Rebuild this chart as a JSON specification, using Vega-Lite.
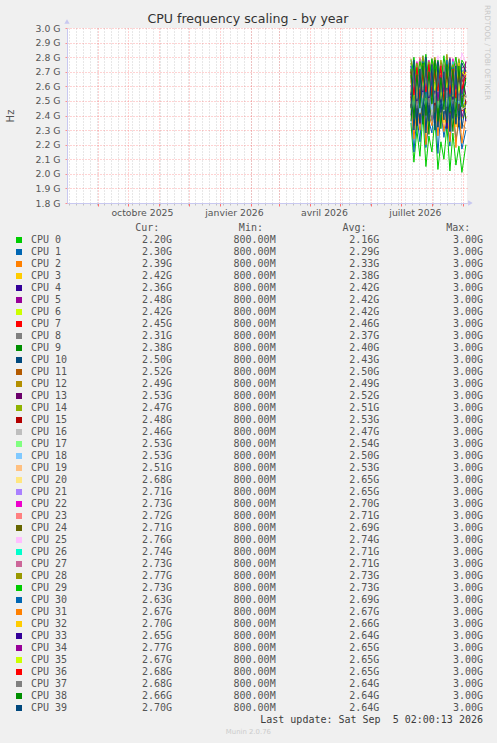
{
  "$schema": "https://vega.github.io/schema/vega-lite/v6.json",
  "width": 400,
  "height": 175,
  "autosize": {"type": "none"},
  "padding": {"left": 67, "top": 28, "right": 30, "bottom": 540},
  "background": "#f0f0f0",
  "title": {
    "text": "CPU frequency scaling - by year",
    "font": "DejaVu Sans",
    "fontSize": 12.6,
    "fontWeight": "normal",
    "color": "#333333",
    "anchor": "middle",
    "frame": "bounds",
    "offset": -21
  },
  "datasets": {
    "freq": [
      {"c":0,"t":"2026-07-11","v":2.35},{"c":0,"t":"2026-07-14","v":2.08},{"c":0,"t":"2026-07-17","v":2.30},{"c":0,"t":"2026-07-20","v":2.12},{"c":0,"t":"2026-07-23","v":2.41},{"c":0,"t":"2026-07-26","v":2.05},{"c":0,"t":"2026-07-29","v":2.26},{"c":0,"t":"2026-08-01","v":2.15},{"c":0,"t":"2026-08-04","v":2.38},{"c":0,"t":"2026-08-07","v":2.03},{"c":0,"t":"2026-08-10","v":2.22},{"c":0,"t":"2026-08-13","v":2.10},{"c":0,"t":"2026-08-16","v":2.33},{"c":0,"t":"2026-08-19","v":2.02},{"c":0,"t":"2026-08-22","v":2.28},{"c":0,"t":"2026-08-25","v":2.06},{"c":0,"t":"2026-08-28","v":2.19},{"c":0,"t":"2026-08-31","v":2.01},{"c":0,"t":"2026-09-04","v":2.20},
      {"c":1,"t":"2026-07-11","v":2.48},{"c":1,"t":"2026-07-14","v":2.15},{"c":1,"t":"2026-07-17","v":2.40},{"c":1,"t":"2026-07-20","v":2.22},{"c":1,"t":"2026-07-23","v":2.55},{"c":1,"t":"2026-07-26","v":2.18},{"c":1,"t":"2026-07-29","v":2.36},{"c":1,"t":"2026-08-01","v":2.28},{"c":1,"t":"2026-08-04","v":2.50},{"c":1,"t":"2026-08-07","v":2.14},{"c":1,"t":"2026-08-10","v":2.44},{"c":1,"t":"2026-08-13","v":2.25},{"c":1,"t":"2026-08-16","v":2.38},{"c":1,"t":"2026-08-19","v":2.19},{"c":1,"t":"2026-08-22","v":2.47},{"c":1,"t":"2026-08-25","v":2.23},{"c":1,"t":"2026-08-28","v":2.35},{"c":1,"t":"2026-08-31","v":2.17},{"c":1,"t":"2026-09-04","v":2.30},
      {"c":2,"t":"2026-07-11","v":2.52},{"c":2,"t":"2026-07-14","v":2.24},{"c":2,"t":"2026-07-17","v":2.45},{"c":2,"t":"2026-07-20","v":2.30},{"c":2,"t":"2026-07-23","v":2.60},{"c":2,"t":"2026-07-26","v":2.20},{"c":2,"t":"2026-07-29","v":2.41},{"c":2,"t":"2026-08-01","v":2.33},{"c":2,"t":"2026-08-04","v":2.55},{"c":2,"t":"2026-08-07","v":2.26},{"c":2,"t":"2026-08-10","v":2.48},{"c":2,"t":"2026-08-13","v":2.29},{"c":2,"t":"2026-08-16","v":2.43},{"c":2,"t":"2026-08-19","v":2.22},{"c":2,"t":"2026-08-22","v":2.51},{"c":2,"t":"2026-08-25","v":2.18},{"c":2,"t":"2026-08-28","v":2.44},{"c":2,"t":"2026-08-31","v":2.21},{"c":2,"t":"2026-09-04","v":2.39},
      {"c":3,"t":"2026-07-11","v":2.58},{"c":3,"t":"2026-07-14","v":2.31},{"c":3,"t":"2026-07-17","v":2.50},{"c":3,"t":"2026-07-20","v":2.36},{"c":3,"t":"2026-07-23","v":2.62},{"c":3,"t":"2026-07-26","v":2.28},{"c":3,"t":"2026-07-29","v":2.47},{"c":3,"t":"2026-08-01","v":2.40},{"c":3,"t":"2026-08-04","v":2.60},{"c":3,"t":"2026-08-07","v":2.33},{"c":3,"t":"2026-08-10","v":2.53},{"c":3,"t":"2026-08-13","v":2.35},{"c":3,"t":"2026-08-16","v":2.49},{"c":3,"t":"2026-08-19","v":2.30},{"c":3,"t":"2026-08-22","v":2.56},{"c":3,"t":"2026-08-25","v":2.32},{"c":3,"t":"2026-08-28","v":2.46},{"c":3,"t":"2026-08-31","v":2.38},{"c":3,"t":"2026-09-04","v":2.42},
      {"c":4,"t":"2026-07-11","v":2.40},{"c":4,"t":"2026-07-14","v":2.62},{"c":4,"t":"2026-07-17","v":2.33},{"c":4,"t":"2026-07-20","v":2.55},{"c":4,"t":"2026-07-23","v":2.38},{"c":4,"t":"2026-07-26","v":2.66},{"c":4,"t":"2026-07-29","v":2.42},{"c":4,"t":"2026-08-01","v":2.50},{"c":4,"t":"2026-08-04","v":2.35},{"c":4,"t":"2026-08-07","v":2.63},{"c":4,"t":"2026-08-10","v":2.44},{"c":4,"t":"2026-08-13","v":2.58},{"c":4,"t":"2026-08-16","v":2.31},{"c":4,"t":"2026-08-19","v":2.60},{"c":4,"t":"2026-08-22","v":2.46},{"c":4,"t":"2026-08-25","v":2.52},{"c":4,"t":"2026-08-28","v":2.37},{"c":4,"t":"2026-08-31","v":2.57},{"c":4,"t":"2026-09-04","v":2.36},
      {"c":5,"t":"2026-07-11","v":2.61},{"c":5,"t":"2026-07-14","v":2.39},{"c":5,"t":"2026-07-17","v":2.55},{"c":5,"t":"2026-07-20","v":2.34},{"c":5,"t":"2026-07-23","v":2.64},{"c":5,"t":"2026-07-26","v":2.42},{"c":5,"t":"2026-07-29","v":2.51},{"c":5,"t":"2026-08-01","v":2.37},{"c":5,"t":"2026-08-04","v":2.66},{"c":5,"t":"2026-08-07","v":2.40},{"c":5,"t":"2026-08-10","v":2.57},{"c":5,"t":"2026-08-13","v":2.44},{"c":5,"t":"2026-08-16","v":2.60},{"c":5,"t":"2026-08-19","v":2.36},{"c":5,"t":"2026-08-22","v":2.53},{"c":5,"t":"2026-08-25","v":2.41},{"c":5,"t":"2026-08-28","v":2.62},{"c":5,"t":"2026-08-31","v":2.39},{"c":5,"t":"2026-09-04","v":2.48},
      {"c":6,"t":"2026-07-11","v":2.44},{"c":6,"t":"2026-07-14","v":2.65},{"c":6,"t":"2026-07-17","v":2.38},{"c":6,"t":"2026-07-20","v":2.58},{"c":6,"t":"2026-07-23","v":2.41},{"c":6,"t":"2026-07-26","v":2.68},{"c":6,"t":"2026-07-29","v":2.45},{"c":6,"t":"2026-08-01","v":2.55},{"c":6,"t":"2026-08-04","v":2.36},{"c":6,"t":"2026-08-07","v":2.62},{"c":6,"t":"2026-08-10","v":2.48},{"c":6,"t":"2026-08-13","v":2.59},{"c":6,"t":"2026-08-16","v":2.40},{"c":6,"t":"2026-08-19","v":2.66},{"c":6,"t":"2026-08-22","v":2.43},{"c":6,"t":"2026-08-25","v":2.57},{"c":6,"t":"2026-08-28","v":2.39},{"c":6,"t":"2026-08-31","v":2.61},{"c":6,"t":"2026-09-04","v":2.42},
      {"c":7,"t":"2026-07-11","v":2.66},{"c":7,"t":"2026-07-14","v":2.42},{"c":7,"t":"2026-07-17","v":2.58},{"c":7,"t":"2026-07-20","v":2.45},{"c":7,"t":"2026-07-23","v":2.70},{"c":7,"t":"2026-07-26","v":2.40},{"c":7,"t":"2026-07-29","v":2.61},{"c":7,"t":"2026-08-01","v":2.48},{"c":7,"t":"2026-08-04","v":2.72},{"c":7,"t":"2026-08-07","v":2.44},{"c":7,"t":"2026-08-10","v":2.63},{"c":7,"t":"2026-08-13","v":2.46},{"c":7,"t":"2026-08-16","v":2.68},{"c":7,"t":"2026-08-19","v":2.41},{"c":7,"t":"2026-08-22","v":2.60},{"c":7,"t":"2026-08-25","v":2.49},{"c":7,"t":"2026-08-28","v":2.65},{"c":7,"t":"2026-08-31","v":2.43},{"c":7,"t":"2026-09-04","v":2.45},
      {"c":8,"t":"2026-07-11","v":2.55},{"c":8,"t":"2026-07-14","v":2.33},{"c":8,"t":"2026-07-17","v":2.47},{"c":8,"t":"2026-07-20","v":2.38},{"c":8,"t":"2026-07-23","v":2.59},{"c":8,"t":"2026-07-26","v":2.30},{"c":8,"t":"2026-07-29","v":2.50},{"c":8,"t":"2026-08-01","v":2.36},{"c":8,"t":"2026-08-04","v":2.57},{"c":8,"t":"2026-08-07","v":2.32},{"c":8,"t":"2026-08-10","v":2.49},{"c":8,"t":"2026-08-13","v":2.41},{"c":8,"t":"2026-08-16","v":2.54},{"c":8,"t":"2026-08-19","v":2.29},{"c":8,"t":"2026-08-22","v":2.52},{"c":8,"t":"2026-08-25","v":2.35},{"c":8,"t":"2026-08-28","v":2.48},{"c":8,"t":"2026-08-31","v":2.34},{"c":8,"t":"2026-09-04","v":2.31},
      {"c":9,"t":"2026-07-11","v":2.36},{"c":9,"t":"2026-07-14","v":2.60},{"c":9,"t":"2026-07-17","v":2.30},{"c":9,"t":"2026-07-20","v":2.66},{"c":9,"t":"2026-07-23","v":2.34},{"c":9,"t":"2026-07-26","v":2.58},{"c":9,"t":"2026-07-29","v":2.27},{"c":9,"t":"2026-08-01","v":2.63},{"c":9,"t":"2026-08-04","v":2.38},{"c":9,"t":"2026-08-07","v":2.55},{"c":9,"t":"2026-08-10","v":2.31},{"c":9,"t":"2026-08-13","v":2.64},{"c":9,"t":"2026-08-16","v":2.35},{"c":9,"t":"2026-08-19","v":2.57},{"c":9,"t":"2026-08-22","v":2.29},{"c":9,"t":"2026-08-25","v":2.61},{"c":9,"t":"2026-08-28","v":2.40},{"c":9,"t":"2026-08-31","v":2.52},{"c":9,"t":"2026-09-04","v":2.38},
      {"c":10,"t":"2026-07-11","v":2.70},{"c":10,"t":"2026-07-14","v":2.30},{"c":10,"t":"2026-07-17","v":2.62},{"c":10,"t":"2026-07-20","v":2.35},{"c":10,"t":"2026-07-23","v":2.74},{"c":10,"t":"2026-07-26","v":2.28},{"c":10,"t":"2026-07-29","v":2.66},{"c":10,"t":"2026-08-01","v":2.40},{"c":10,"t":"2026-08-04","v":2.72},{"c":10,"t":"2026-08-07","v":2.32},{"c":10,"t":"2026-08-10","v":2.60},{"c":10,"t":"2026-08-13","v":2.37},{"c":10,"t":"2026-08-16","v":2.76},{"c":10,"t":"2026-08-19","v":2.29},{"c":10,"t":"2026-08-22","v":2.64},{"c":10,"t":"2026-08-25","v":2.34},{"c":10,"t":"2026-08-28","v":2.71},{"c":10,"t":"2026-08-31","v":2.31},{"c":10,"t":"2026-09-04","v":2.50},
      {"c":11,"t":"2026-07-11","v":2.46},{"c":11,"t":"2026-07-14","v":2.68},{"c":11,"t":"2026-07-17","v":2.40},{"c":11,"t":"2026-07-20","v":2.63},{"c":11,"t":"2026-07-23","v":2.49},{"c":11,"t":"2026-07-26","v":2.71},{"c":11,"t":"2026-07-29","v":2.44},{"c":11,"t":"2026-08-01","v":2.60},{"c":11,"t":"2026-08-04","v":2.42},{"c":11,"t":"2026-08-07","v":2.67},{"c":11,"t":"2026-08-10","v":2.51},{"c":11,"t":"2026-08-13","v":2.64},{"c":11,"t":"2026-08-16","v":2.45},{"c":11,"t":"2026-08-19","v":2.70},{"c":11,"t":"2026-08-22","v":2.48},{"c":11,"t":"2026-08-25","v":2.62},{"c":11,"t":"2026-08-28","v":2.43},{"c":11,"t":"2026-08-31","v":2.66},{"c":11,"t":"2026-09-04","v":2.52},
      {"c":12,"t":"2026-07-11","v":2.64},{"c":12,"t":"2026-07-14","v":2.45},{"c":12,"t":"2026-07-17","v":2.70},{"c":12,"t":"2026-07-20","v":2.41},{"c":12,"t":"2026-07-23","v":2.62},{"c":12,"t":"2026-07-26","v":2.48},{"c":12,"t":"2026-07-29","v":2.68},{"c":12,"t":"2026-08-01","v":2.43},{"c":12,"t":"2026-08-04","v":2.65},{"c":12,"t":"2026-08-07","v":2.40},{"c":12,"t":"2026-08-10","v":2.69},{"c":12,"t":"2026-08-13","v":2.47},{"c":12,"t":"2026-08-16","v":2.61},{"c":12,"t":"2026-08-19","v":2.44},{"c":12,"t":"2026-08-22","v":2.66},{"c":12,"t":"2026-08-25","v":2.42},{"c":12,"t":"2026-08-28","v":2.63},{"c":12,"t":"2026-08-31","v":2.46},{"c":12,"t":"2026-09-04","v":2.49},
      {"c":13,"t":"2026-07-11","v":2.50},{"c":13,"t":"2026-07-14","v":2.72},{"c":13,"t":"2026-07-17","v":2.46},{"c":13,"t":"2026-07-20","v":2.66},{"c":13,"t":"2026-07-23","v":2.53},{"c":13,"t":"2026-07-26","v":2.74},{"c":13,"t":"2026-07-29","v":2.48},{"c":13,"t":"2026-08-01","v":2.69},{"c":13,"t":"2026-08-04","v":2.51},{"c":13,"t":"2026-08-07","v":2.70},{"c":13,"t":"2026-08-10","v":2.45},{"c":13,"t":"2026-08-13","v":2.67},{"c":13,"t":"2026-08-16","v":2.55},{"c":13,"t":"2026-08-19","v":2.73},{"c":13,"t":"2026-08-22","v":2.49},{"c":13,"t":"2026-08-25","v":2.68},{"c":13,"t":"2026-08-28","v":2.52},{"c":13,"t":"2026-08-31","v":2.71},{"c":13,"t":"2026-09-04","v":2.53},
      {"c":14,"t":"2026-07-11","v":2.68},{"c":14,"t":"2026-07-14","v":2.48},{"c":14,"t":"2026-07-17","v":2.63},{"c":14,"t":"2026-07-20","v":2.51},{"c":14,"t":"2026-07-23","v":2.72},{"c":14,"t":"2026-07-26","v":2.46},{"c":14,"t":"2026-07-29","v":2.66},{"c":14,"t":"2026-08-01","v":2.50},{"c":14,"t":"2026-08-04","v":2.70},{"c":14,"t":"2026-08-07","v":2.44},{"c":14,"t":"2026-08-10","v":2.64},{"c":14,"t":"2026-08-13","v":2.52},{"c":14,"t":"2026-08-16","v":2.69},{"c":14,"t":"2026-08-19","v":2.47},{"c":14,"t":"2026-08-22","v":2.65},{"c":14,"t":"2026-08-25","v":2.49},{"c":14,"t":"2026-08-28","v":2.71},{"c":14,"t":"2026-08-31","v":2.45},{"c":14,"t":"2026-09-04","v":2.47},
      {"c":15,"t":"2026-07-11","v":2.52},{"c":15,"t":"2026-07-14","v":2.74},{"c":15,"t":"2026-07-17","v":2.49},{"c":15,"t":"2026-07-20","v":2.68},{"c":15,"t":"2026-07-23","v":2.55},{"c":15,"t":"2026-07-26","v":2.76},{"c":15,"t":"2026-07-29","v":2.50},{"c":15,"t":"2026-08-01","v":2.70},{"c":15,"t":"2026-08-04","v":2.47},{"c":15,"t":"2026-08-07","v":2.73},{"c":15,"t":"2026-08-10","v":2.53},{"c":15,"t":"2026-08-13","v":2.69},{"c":15,"t":"2026-08-16","v":2.51},{"c":15,"t":"2026-08-19","v":2.75},{"c":15,"t":"2026-08-22","v":2.48},{"c":15,"t":"2026-08-25","v":2.71},{"c":15,"t":"2026-08-28","v":2.54},{"c":15,"t":"2026-08-31","v":2.67},{"c":15,"t":"2026-09-04","v":2.48},
      {"c":16,"t":"2026-07-11","v":2.55},{"c":16,"t":"2026-07-14","v":2.44},{"c":16,"t":"2026-07-17","v":2.60},{"c":16,"t":"2026-07-20","v":2.42},{"c":16,"t":"2026-07-23","v":2.53},{"c":16,"t":"2026-07-26","v":2.46},{"c":16,"t":"2026-07-29","v":2.58},{"c":16,"t":"2026-08-01","v":2.40},{"c":16,"t":"2026-08-04","v":2.56},{"c":16,"t":"2026-08-07","v":2.45},{"c":16,"t":"2026-08-10","v":2.61},{"c":16,"t":"2026-08-13","v":2.43},{"c":16,"t":"2026-08-16","v":2.54},{"c":16,"t":"2026-08-19","v":2.47},{"c":16,"t":"2026-08-22","v":2.59},{"c":16,"t":"2026-08-25","v":2.41},{"c":16,"t":"2026-08-28","v":2.57},{"c":16,"t":"2026-08-31","v":2.44},{"c":16,"t":"2026-09-04","v":2.46},
      {"c":17,"t":"2026-07-11","v":2.48},{"c":17,"t":"2026-07-14","v":2.62},{"c":17,"t":"2026-07-17","v":2.51},{"c":17,"t":"2026-07-20","v":2.66},{"c":17,"t":"2026-07-23","v":2.47},{"c":17,"t":"2026-07-26","v":2.60},{"c":17,"t":"2026-07-29","v":2.53},{"c":17,"t":"2026-08-01","v":2.64},{"c":17,"t":"2026-08-04","v":2.49},{"c":17,"t":"2026-08-07","v":2.63},{"c":17,"t":"2026-08-10","v":2.52},{"c":17,"t":"2026-08-13","v":2.58},{"c":17,"t":"2026-08-16","v":2.46},{"c":17,"t":"2026-08-19","v":2.65},{"c":17,"t":"2026-08-22","v":2.50},{"c":17,"t":"2026-08-25","v":2.61},{"c":17,"t":"2026-08-28","v":2.48},{"c":17,"t":"2026-08-31","v":2.59},{"c":17,"t":"2026-09-04","v":2.53},
      {"c":18,"t":"2026-07-11","v":2.58},{"c":18,"t":"2026-07-14","v":2.46},{"c":18,"t":"2026-07-17","v":2.54},{"c":18,"t":"2026-07-20","v":2.42},{"c":18,"t":"2026-07-23","v":2.60},{"c":18,"t":"2026-07-26","v":2.48},{"c":18,"t":"2026-07-29","v":2.55},{"c":18,"t":"2026-08-01","v":2.44},{"c":18,"t":"2026-08-04","v":2.57},{"c":18,"t":"2026-08-07","v":2.45},{"c":18,"t":"2026-08-10","v":2.52},{"c":18,"t":"2026-08-13","v":2.47},{"c":18,"t":"2026-08-16","v":2.59},{"c":18,"t":"2026-08-19","v":2.43},{"c":18,"t":"2026-08-22","v":2.56},{"c":18,"t":"2026-08-25","v":2.49},{"c":18,"t":"2026-08-28","v":2.50},{"c":18,"t":"2026-08-31","v":2.46},{"c":18,"t":"2026-09-04","v":2.53},
      {"c":19,"t":"2026-07-11","v":2.50},{"c":19,"t":"2026-07-14","v":2.60},{"c":19,"t":"2026-07-17","v":2.45},{"c":19,"t":"2026-07-20","v":2.58},{"c":19,"t":"2026-07-23","v":2.52},{"c":19,"t":"2026-07-26","v":2.63},{"c":19,"t":"2026-07-29","v":2.47},{"c":19,"t":"2026-08-01","v":2.57},{"c":19,"t":"2026-08-04","v":2.49},{"c":19,"t":"2026-08-07","v":2.61},{"c":19,"t":"2026-08-10","v":2.46},{"c":19,"t":"2026-08-13","v":2.59},{"c":19,"t":"2026-08-16","v":2.53},{"c":19,"t":"2026-08-19","v":2.56},{"c":19,"t":"2026-08-22","v":2.48},{"c":19,"t":"2026-08-25","v":2.62},{"c":19,"t":"2026-08-28","v":2.51},{"c":19,"t":"2026-08-31","v":2.55},{"c":19,"t":"2026-09-04","v":2.51},
      {"c":20,"t":"2026-07-11","v":2.70},{"c":20,"t":"2026-07-14","v":2.55},{"c":20,"t":"2026-07-17","v":2.66},{"c":20,"t":"2026-07-20","v":2.58},{"c":20,"t":"2026-07-23","v":2.74},{"c":20,"t":"2026-07-26","v":2.52},{"c":20,"t":"2026-07-29","v":2.69},{"c":20,"t":"2026-08-01","v":2.60},{"c":20,"t":"2026-08-04","v":2.72},{"c":20,"t":"2026-08-07","v":2.56},{"c":20,"t":"2026-08-10","v":2.67},{"c":20,"t":"2026-08-13","v":2.59},{"c":20,"t":"2026-08-16","v":2.75},{"c":20,"t":"2026-08-19","v":2.54},{"c":20,"t":"2026-08-22","v":2.68},{"c":20,"t":"2026-08-25","v":2.57},{"c":20,"t":"2026-08-28","v":2.71},{"c":20,"t":"2026-08-31","v":2.61},{"c":20,"t":"2026-09-04","v":2.68},
      {"c":21,"t":"2026-07-11","v":2.58},{"c":21,"t":"2026-07-14","v":2.73},{"c":21,"t":"2026-07-17","v":2.54},{"c":21,"t":"2026-07-20","v":2.69},{"c":21,"t":"2026-07-23","v":2.61},{"c":21,"t":"2026-07-26","v":2.76},{"c":21,"t":"2026-07-29","v":2.57},{"c":21,"t":"2026-08-01","v":2.70},{"c":21,"t":"2026-08-04","v":2.55},{"c":21,"t":"2026-08-07","v":2.74},{"c":21,"t":"2026-08-10","v":2.60},{"c":21,"t":"2026-08-13","v":2.68},{"c":21,"t":"2026-08-16","v":2.53},{"c":21,"t":"2026-08-19","v":2.72},{"c":21,"t":"2026-08-22","v":2.62},{"c":21,"t":"2026-08-25","v":2.75},{"c":21,"t":"2026-08-28","v":2.56},{"c":21,"t":"2026-08-31","v":2.71},{"c":21,"t":"2026-09-04","v":2.71},
      {"c":22,"t":"2026-07-11","v":2.74},{"c":22,"t":"2026-07-14","v":2.60},{"c":22,"t":"2026-07-17","v":2.77},{"c":22,"t":"2026-07-20","v":2.63},{"c":22,"t":"2026-07-23","v":2.71},{"c":22,"t":"2026-07-26","v":2.58},{"c":22,"t":"2026-07-29","v":2.78},{"c":22,"t":"2026-08-01","v":2.62},{"c":22,"t":"2026-08-04","v":2.73},{"c":22,"t":"2026-08-07","v":2.57},{"c":22,"t":"2026-08-10","v":2.76},{"c":22,"t":"2026-08-13","v":2.64},{"c":22,"t":"2026-08-16","v":2.70},{"c":22,"t":"2026-08-19","v":2.59},{"c":22,"t":"2026-08-22","v":2.79},{"c":22,"t":"2026-08-25","v":2.61},{"c":22,"t":"2026-08-28","v":2.72},{"c":22,"t":"2026-08-31","v":2.65},{"c":22,"t":"2026-09-04","v":2.73},
      {"c":23,"t":"2026-07-11","v":2.62},{"c":23,"t":"2026-07-14","v":2.77},{"c":23,"t":"2026-07-17","v":2.66},{"c":23,"t":"2026-07-20","v":2.80},{"c":23,"t":"2026-07-23","v":2.60},{"c":23,"t":"2026-07-26","v":2.75},{"c":23,"t":"2026-07-29","v":2.68},{"c":23,"t":"2026-08-01","v":2.79},{"c":23,"t":"2026-08-04","v":2.63},{"c":23,"t":"2026-08-07","v":2.74},{"c":23,"t":"2026-08-10","v":2.65},{"c":23,"t":"2026-08-13","v":2.78},{"c":23,"t":"2026-08-16","v":2.61},{"c":23,"t":"2026-08-19","v":2.76},{"c":23,"t":"2026-08-22","v":2.67},{"c":23,"t":"2026-08-25","v":2.80},{"c":23,"t":"2026-08-28","v":2.64},{"c":23,"t":"2026-08-31","v":2.73},{"c":23,"t":"2026-09-04","v":2.72},
      {"c":24,"t":"2026-07-11","v":2.76},{"c":24,"t":"2026-07-14","v":2.61},{"c":24,"t":"2026-07-17","v":2.72},{"c":24,"t":"2026-07-20","v":2.64},{"c":24,"t":"2026-07-23","v":2.79},{"c":24,"t":"2026-07-26","v":2.59},{"c":24,"t":"2026-07-29","v":2.74},{"c":24,"t":"2026-08-01","v":2.66},{"c":24,"t":"2026-08-04","v":2.77},{"c":24,"t":"2026-08-07","v":2.60},{"c":24,"t":"2026-08-10","v":2.73},{"c":24,"t":"2026-08-13","v":2.63},{"c":24,"t":"2026-08-16","v":2.78},{"c":24,"t":"2026-08-19","v":2.62},{"c":24,"t":"2026-08-22","v":2.75},{"c":24,"t":"2026-08-25","v":2.58},{"c":24,"t":"2026-08-28","v":2.76},{"c":24,"t":"2026-08-31","v":2.65},{"c":24,"t":"2026-09-04","v":2.71},
      {"c":25,"t":"2026-07-11","v":2.68},{"c":25,"t":"2026-07-14","v":2.80},{"c":25,"t":"2026-07-17","v":2.65},{"c":25,"t":"2026-07-20","v":2.78},{"c":25,"t":"2026-07-23","v":2.70},{"c":25,"t":"2026-07-26","v":2.82},{"c":25,"t":"2026-07-29","v":2.66},{"c":25,"t":"2026-08-01","v":2.77},{"c":25,"t":"2026-08-04","v":2.69},{"c":25,"t":"2026-08-07","v":2.81},{"c":25,"t":"2026-08-10","v":2.67},{"c":25,"t":"2026-08-13","v":2.79},{"c":25,"t":"2026-08-16","v":2.64},{"c":25,"t":"2026-08-19","v":2.80},{"c":25,"t":"2026-08-22","v":2.71},{"c":25,"t":"2026-08-25","v":2.78},{"c":25,"t":"2026-08-28","v":2.66},{"c":25,"t":"2026-08-31","v":2.83},{"c":25,"t":"2026-09-04","v":2.76},
      {"c":26,"t":"2026-07-11","v":2.78},{"c":26,"t":"2026-07-14","v":2.64},{"c":26,"t":"2026-07-17","v":2.75},{"c":26,"t":"2026-07-20","v":2.67},{"c":26,"t":"2026-07-23","v":2.81},{"c":26,"t":"2026-07-26","v":2.62},{"c":26,"t":"2026-07-29","v":2.76},{"c":26,"t":"2026-08-01","v":2.68},{"c":26,"t":"2026-08-04","v":2.79},{"c":26,"t":"2026-08-07","v":2.63},{"c":26,"t":"2026-08-10","v":2.74},{"c":26,"t":"2026-08-13","v":2.66},{"c":26,"t":"2026-08-16","v":2.80},{"c":26,"t":"2026-08-19","v":2.65},{"c":26,"t":"2026-08-22","v":2.77},{"c":26,"t":"2026-08-25","v":2.61},{"c":26,"t":"2026-08-28","v":2.78},{"c":26,"t":"2026-08-31","v":2.69},{"c":26,"t":"2026-09-04","v":2.74},
      {"c":27,"t":"2026-07-11","v":2.65},{"c":27,"t":"2026-07-14","v":2.76},{"c":27,"t":"2026-07-17","v":2.62},{"c":27,"t":"2026-07-20","v":2.79},{"c":27,"t":"2026-07-23","v":2.67},{"c":27,"t":"2026-07-26","v":2.74},{"c":27,"t":"2026-07-29","v":2.63},{"c":27,"t":"2026-08-01","v":2.78},{"c":27,"t":"2026-08-04","v":2.66},{"c":27,"t":"2026-08-07","v":2.77},{"c":27,"t":"2026-08-10","v":2.64},{"c":27,"t":"2026-08-13","v":2.75},{"c":27,"t":"2026-08-16","v":2.68},{"c":27,"t":"2026-08-19","v":2.80},{"c":27,"t":"2026-08-22","v":2.62},{"c":27,"t":"2026-08-25","v":2.76},{"c":27,"t":"2026-08-28","v":2.67},{"c":27,"t":"2026-08-31","v":2.73},{"c":27,"t":"2026-09-04","v":2.73},
      {"c":28,"t":"2026-07-11","v":2.79},{"c":28,"t":"2026-07-14","v":2.63},{"c":28,"t":"2026-07-17","v":2.76},{"c":28,"t":"2026-07-20","v":2.66},{"c":28,"t":"2026-07-23","v":2.81},{"c":28,"t":"2026-07-26","v":2.64},{"c":28,"t":"2026-07-29","v":2.77},{"c":28,"t":"2026-08-01","v":2.69},{"c":28,"t":"2026-08-04","v":2.80},{"c":28,"t":"2026-08-07","v":2.62},{"c":28,"t":"2026-08-10","v":2.78},{"c":28,"t":"2026-08-13","v":2.67},{"c":28,"t":"2026-08-16","v":2.82},{"c":28,"t":"2026-08-19","v":2.65},{"c":28,"t":"2026-08-22","v":2.75},{"c":28,"t":"2026-08-25","v":2.68},{"c":28,"t":"2026-08-28","v":2.79},{"c":28,"t":"2026-08-31","v":2.64},{"c":28,"t":"2026-09-04","v":2.77},
      {"c":29,"t":"2026-07-11","v":2.66},{"c":29,"t":"2026-07-14","v":2.80},{"c":29,"t":"2026-07-17","v":2.63},{"c":29,"t":"2026-07-20","v":2.77},{"c":29,"t":"2026-07-23","v":2.68},{"c":29,"t":"2026-07-26","v":2.82},{"c":29,"t":"2026-07-29","v":2.64},{"c":29,"t":"2026-08-01","v":2.79},{"c":29,"t":"2026-08-04","v":2.67},{"c":29,"t":"2026-08-07","v":2.78},{"c":29,"t":"2026-08-10","v":2.62},{"c":29,"t":"2026-08-13","v":2.81},{"c":29,"t":"2026-08-16","v":2.65},{"c":29,"t":"2026-08-19","v":2.76},{"c":29,"t":"2026-08-22","v":2.69},{"c":29,"t":"2026-08-25","v":2.80},{"c":29,"t":"2026-08-28","v":2.63},{"c":29,"t":"2026-08-31","v":2.78},{"c":29,"t":"2026-09-04","v":2.73},
      {"c":30,"t":"2026-07-11","v":2.74},{"c":30,"t":"2026-07-14","v":2.56},{"c":30,"t":"2026-07-17","v":2.70},{"c":30,"t":"2026-07-20","v":2.59},{"c":30,"t":"2026-07-23","v":2.77},{"c":30,"t":"2026-07-26","v":2.52},{"c":30,"t":"2026-07-29","v":2.72},{"c":30,"t":"2026-08-01","v":2.60},{"c":30,"t":"2026-08-04","v":2.76},{"c":30,"t":"2026-08-07","v":2.55},{"c":30,"t":"2026-08-10","v":2.71},{"c":30,"t":"2026-08-13","v":2.58},{"c":30,"t":"2026-08-16","v":2.78},{"c":30,"t":"2026-08-19","v":2.53},{"c":30,"t":"2026-08-22","v":2.73},{"c":30,"t":"2026-08-25","v":2.57},{"c":30,"t":"2026-08-28","v":2.75},{"c":30,"t":"2026-08-31","v":2.54},{"c":30,"t":"2026-09-04","v":2.63},
      {"c":31,"t":"2026-07-11","v":2.55},{"c":31,"t":"2026-07-14","v":2.72},{"c":31,"t":"2026-07-17","v":2.50},{"c":31,"t":"2026-07-20","v":2.69},{"c":31,"t":"2026-07-23","v":2.57},{"c":31,"t":"2026-07-26","v":2.75},{"c":31,"t":"2026-07-29","v":2.52},{"c":31,"t":"2026-08-01","v":2.70},{"c":31,"t":"2026-08-04","v":2.54},{"c":31,"t":"2026-08-07","v":2.73},{"c":31,"t":"2026-08-10","v":2.49},{"c":31,"t":"2026-08-13","v":2.68},{"c":31,"t":"2026-08-16","v":2.56},{"c":31,"t":"2026-08-19","v":2.74},{"c":31,"t":"2026-08-22","v":2.51},{"c":31,"t":"2026-08-25","v":2.71},{"c":31,"t":"2026-08-28","v":2.53},{"c":31,"t":"2026-08-31","v":2.70},{"c":31,"t":"2026-09-04","v":2.67},
      {"c":32,"t":"2026-07-11","v":2.72},{"c":32,"t":"2026-07-14","v":2.57},{"c":32,"t":"2026-07-17","v":2.68},{"c":32,"t":"2026-07-20","v":2.54},{"c":32,"t":"2026-07-23","v":2.75},{"c":32,"t":"2026-07-26","v":2.58},{"c":32,"t":"2026-07-29","v":2.70},{"c":32,"t":"2026-08-01","v":2.52},{"c":32,"t":"2026-08-04","v":2.74},{"c":32,"t":"2026-08-07","v":2.56},{"c":32,"t":"2026-08-10","v":2.69},{"c":32,"t":"2026-08-13","v":2.59},{"c":32,"t":"2026-08-16","v":2.73},{"c":32,"t":"2026-08-19","v":2.55},{"c":32,"t":"2026-08-22","v":2.71},{"c":32,"t":"2026-08-25","v":2.53},{"c":32,"t":"2026-08-28","v":2.76},{"c":32,"t":"2026-08-31","v":2.58},{"c":32,"t":"2026-09-04","v":2.70},
      {"c":33,"t":"2026-07-11","v":2.54},{"c":33,"t":"2026-07-14","v":2.70},{"c":33,"t":"2026-07-17","v":2.50},{"c":33,"t":"2026-07-20","v":2.67},{"c":33,"t":"2026-07-23","v":2.56},{"c":33,"t":"2026-07-26","v":2.73},{"c":33,"t":"2026-07-29","v":2.52},{"c":33,"t":"2026-08-01","v":2.68},{"c":33,"t":"2026-08-04","v":2.55},{"c":33,"t":"2026-08-07","v":2.71},{"c":33,"t":"2026-08-10","v":2.49},{"c":33,"t":"2026-08-13","v":2.66},{"c":33,"t":"2026-08-16","v":2.57},{"c":33,"t":"2026-08-19","v":2.72},{"c":33,"t":"2026-08-22","v":2.51},{"c":33,"t":"2026-08-25","v":2.69},{"c":33,"t":"2026-08-28","v":2.53},{"c":33,"t":"2026-08-31","v":2.68},{"c":33,"t":"2026-09-04","v":2.65},
      {"c":34,"t":"2026-07-11","v":2.71},{"c":34,"t":"2026-07-14","v":2.55},{"c":34,"t":"2026-07-17","v":2.67},{"c":34,"t":"2026-07-20","v":2.52},{"c":34,"t":"2026-07-23","v":2.74},{"c":34,"t":"2026-07-26","v":2.57},{"c":34,"t":"2026-07-29","v":2.69},{"c":34,"t":"2026-08-01","v":2.54},{"c":34,"t":"2026-08-04","v":2.72},{"c":34,"t":"2026-08-07","v":2.50},{"c":34,"t":"2026-08-10","v":2.68},{"c":34,"t":"2026-08-13","v":2.56},{"c":34,"t":"2026-08-16","v":2.73},{"c":34,"t":"2026-08-19","v":2.53},{"c":34,"t":"2026-08-22","v":2.70},{"c":34,"t":"2026-08-25","v":2.58},{"c":34,"t":"2026-08-28","v":2.66},{"c":34,"t":"2026-08-31","v":2.55},{"c":34,"t":"2026-09-04","v":2.77},
      {"c":35,"t":"2026-07-11","v":2.56},{"c":35,"t":"2026-07-14","v":2.73},{"c":35,"t":"2026-07-17","v":2.52},{"c":35,"t":"2026-07-20","v":2.70},{"c":35,"t":"2026-07-23","v":2.58},{"c":35,"t":"2026-07-26","v":2.76},{"c":35,"t":"2026-07-29","v":2.54},{"c":35,"t":"2026-08-01","v":2.71},{"c":35,"t":"2026-08-04","v":2.57},{"c":35,"t":"2026-08-07","v":2.74},{"c":35,"t":"2026-08-10","v":2.51},{"c":35,"t":"2026-08-13","v":2.69},{"c":35,"t":"2026-08-16","v":2.59},{"c":35,"t":"2026-08-19","v":2.75},{"c":35,"t":"2026-08-22","v":2.53},{"c":35,"t":"2026-08-25","v":2.72},{"c":35,"t":"2026-08-28","v":2.55},{"c":35,"t":"2026-08-31","v":2.70},{"c":35,"t":"2026-09-04","v":2.67},
      {"c":36,"t":"2026-07-11","v":2.70},{"c":36,"t":"2026-07-14","v":2.54},{"c":36,"t":"2026-07-17","v":2.73},{"c":36,"t":"2026-07-20","v":2.51},{"c":36,"t":"2026-07-23","v":2.68},{"c":36,"t":"2026-07-26","v":2.56},{"c":36,"t":"2026-07-29","v":2.75},{"c":36,"t":"2026-08-01","v":2.53},{"c":36,"t":"2026-08-04","v":2.71},{"c":36,"t":"2026-08-07","v":2.57},{"c":36,"t":"2026-08-10","v":2.74},{"c":36,"t":"2026-08-13","v":2.50},{"c":36,"t":"2026-08-16","v":2.69},{"c":36,"t":"2026-08-19","v":2.55},{"c":36,"t":"2026-08-22","v":2.72},{"c":36,"t":"2026-08-25","v":2.52},{"c":36,"t":"2026-08-28","v":2.70},{"c":36,"t":"2026-08-31","v":2.58},{"c":36,"t":"2026-09-04","v":2.68},
      {"c":37,"t":"2026-07-11","v":2.55},{"c":37,"t":"2026-07-14","v":2.69},{"c":37,"t":"2026-07-17","v":2.51},{"c":37,"t":"2026-07-20","v":2.72},{"c":37,"t":"2026-07-23","v":2.57},{"c":37,"t":"2026-07-26","v":2.66},{"c":37,"t":"2026-07-29","v":2.53},{"c":37,"t":"2026-08-01","v":2.70},{"c":37,"t":"2026-08-04","v":2.49},{"c":37,"t":"2026-08-07","v":2.68},{"c":37,"t":"2026-08-10","v":2.56},{"c":37,"t":"2026-08-13","v":2.73},{"c":37,"t":"2026-08-16","v":2.52},{"c":37,"t":"2026-08-19","v":2.67},{"c":37,"t":"2026-08-22","v":2.54},{"c":37,"t":"2026-08-25","v":2.71},{"c":37,"t":"2026-08-28","v":2.50},{"c":37,"t":"2026-08-31","v":2.65},{"c":37,"t":"2026-09-04","v":2.68},
      {"c":38,"t":"2026-07-11","v":2.72},{"c":38,"t":"2026-07-14","v":2.38},{"c":38,"t":"2026-07-17","v":2.68},{"c":38,"t":"2026-07-20","v":2.45},{"c":38,"t":"2026-07-23","v":2.76},{"c":38,"t":"2026-07-26","v":2.40},{"c":38,"t":"2026-07-29","v":2.70},{"c":38,"t":"2026-08-01","v":2.48},{"c":38,"t":"2026-08-04","v":2.78},{"c":38,"t":"2026-08-07","v":2.36},{"c":38,"t":"2026-08-10","v":2.66},{"c":38,"t":"2026-08-13","v":2.44},{"c":38,"t":"2026-08-16","v":2.75},{"c":38,"t":"2026-08-19","v":2.42},{"c":38,"t":"2026-08-22","v":2.71},{"c":38,"t":"2026-08-25","v":2.39},{"c":38,"t":"2026-08-28","v":2.74},{"c":38,"t":"2026-08-31","v":2.46},{"c":38,"t":"2026-09-04","v":2.66},
      {"c":39,"t":"2026-07-11","v":2.45},{"c":39,"t":"2026-07-14","v":2.78},{"c":39,"t":"2026-07-17","v":2.33},{"c":39,"t":"2026-07-20","v":2.72},{"c":39,"t":"2026-07-23","v":2.40},{"c":39,"t":"2026-07-26","v":2.80},{"c":39,"t":"2026-07-29","v":2.36},{"c":39,"t":"2026-08-01","v":2.75},{"c":39,"t":"2026-08-04","v":2.30},{"c":39,"t":"2026-08-07","v":2.77},{"c":39,"t":"2026-08-10","v":2.42},{"c":39,"t":"2026-08-13","v":2.70},{"c":39,"t":"2026-08-16","v":2.35},{"c":39,"t":"2026-08-19","v":2.79},{"c":39,"t":"2026-08-22","v":2.38},{"c":39,"t":"2026-08-25","v":2.74},{"c":39,"t":"2026-08-28","v":2.32},{"c":39,"t":"2026-08-31","v":2.76},{"c":39,"t":"2026-09-04","v":2.70}
    ],
    "stats": [
      {"cpu":"CPU 0","Cur":"2.20G","Min":"800.00M","Avg":"2.16G","Max":"3.00G"},
      {"cpu":"CPU 1","Cur":"2.30G","Min":"800.00M","Avg":"2.29G","Max":"3.00G"},
      {"cpu":"CPU 2","Cur":"2.39G","Min":"800.00M","Avg":"2.33G","Max":"3.00G"},
      {"cpu":"CPU 3","Cur":"2.42G","Min":"800.00M","Avg":"2.38G","Max":"3.00G"},
      {"cpu":"CPU 4","Cur":"2.36G","Min":"800.00M","Avg":"2.42G","Max":"3.00G"},
      {"cpu":"CPU 5","Cur":"2.48G","Min":"800.00M","Avg":"2.42G","Max":"3.00G"},
      {"cpu":"CPU 6","Cur":"2.42G","Min":"800.00M","Avg":"2.42G","Max":"3.00G"},
      {"cpu":"CPU 7","Cur":"2.45G","Min":"800.00M","Avg":"2.46G","Max":"3.00G"},
      {"cpu":"CPU 8","Cur":"2.31G","Min":"800.00M","Avg":"2.37G","Max":"3.00G"},
      {"cpu":"CPU 9","Cur":"2.38G","Min":"800.00M","Avg":"2.40G","Max":"3.00G"},
      {"cpu":"CPU 10","Cur":"2.50G","Min":"800.00M","Avg":"2.43G","Max":"3.00G"},
      {"cpu":"CPU 11","Cur":"2.52G","Min":"800.00M","Avg":"2.50G","Max":"3.00G"},
      {"cpu":"CPU 12","Cur":"2.49G","Min":"800.00M","Avg":"2.49G","Max":"3.00G"},
      {"cpu":"CPU 13","Cur":"2.53G","Min":"800.00M","Avg":"2.52G","Max":"3.00G"},
      {"cpu":"CPU 14","Cur":"2.47G","Min":"800.00M","Avg":"2.51G","Max":"3.00G"},
      {"cpu":"CPU 15","Cur":"2.48G","Min":"800.00M","Avg":"2.53G","Max":"3.00G"},
      {"cpu":"CPU 16","Cur":"2.46G","Min":"800.00M","Avg":"2.47G","Max":"3.00G"},
      {"cpu":"CPU 17","Cur":"2.53G","Min":"800.00M","Avg":"2.54G","Max":"3.00G"},
      {"cpu":"CPU 18","Cur":"2.53G","Min":"800.00M","Avg":"2.50G","Max":"3.00G"},
      {"cpu":"CPU 19","Cur":"2.51G","Min":"800.00M","Avg":"2.53G","Max":"3.00G"},
      {"cpu":"CPU 20","Cur":"2.68G","Min":"800.00M","Avg":"2.65G","Max":"3.00G"},
      {"cpu":"CPU 21","Cur":"2.71G","Min":"800.00M","Avg":"2.65G","Max":"3.00G"},
      {"cpu":"CPU 22","Cur":"2.73G","Min":"800.00M","Avg":"2.70G","Max":"3.00G"},
      {"cpu":"CPU 23","Cur":"2.72G","Min":"800.00M","Avg":"2.71G","Max":"3.00G"},
      {"cpu":"CPU 24","Cur":"2.71G","Min":"800.00M","Avg":"2.69G","Max":"3.00G"},
      {"cpu":"CPU 25","Cur":"2.76G","Min":"800.00M","Avg":"2.74G","Max":"3.00G"},
      {"cpu":"CPU 26","Cur":"2.74G","Min":"800.00M","Avg":"2.71G","Max":"3.00G"},
      {"cpu":"CPU 27","Cur":"2.73G","Min":"800.00M","Avg":"2.71G","Max":"3.00G"},
      {"cpu":"CPU 28","Cur":"2.77G","Min":"800.00M","Avg":"2.73G","Max":"3.00G"},
      {"cpu":"CPU 29","Cur":"2.73G","Min":"800.00M","Avg":"2.73G","Max":"3.00G"},
      {"cpu":"CPU 30","Cur":"2.63G","Min":"800.00M","Avg":"2.69G","Max":"3.00G"},
      {"cpu":"CPU 31","Cur":"2.67G","Min":"800.00M","Avg":"2.67G","Max":"3.00G"},
      {"cpu":"CPU 32","Cur":"2.70G","Min":"800.00M","Avg":"2.66G","Max":"3.00G"},
      {"cpu":"CPU 33","Cur":"2.65G","Min":"800.00M","Avg":"2.64G","Max":"3.00G"},
      {"cpu":"CPU 34","Cur":"2.77G","Min":"800.00M","Avg":"2.65G","Max":"3.00G"},
      {"cpu":"CPU 35","Cur":"2.67G","Min":"800.00M","Avg":"2.65G","Max":"3.00G"},
      {"cpu":"CPU 36","Cur":"2.68G","Min":"800.00M","Avg":"2.65G","Max":"3.00G"},
      {"cpu":"CPU 37","Cur":"2.68G","Min":"800.00M","Avg":"2.64G","Max":"3.00G"},
      {"cpu":"CPU 38","Cur":"2.66G","Min":"800.00M","Avg":"2.64G","Max":"3.00G"},
      {"cpu":"CPU 39","Cur":"2.70G","Min":"800.00M","Avg":"2.64G","Max":"3.00G"}
    ]
  },
  "layer": [
    {
      "layer": [
        {
          "data": {"name": "freq"},
          "mark": {"type": "line", "strokeWidth": 1},
          "encoding": {
            "x": {
              "field": "t",
              "type": "temporal",
              "scale": {
                "domain": [
                  {"year": 2025, "month": 8, "date": 1, "hours": 2},
                  {"year": 2026, "month": 9, "date": 5, "hours": 2}
                ],
                "nice": false
              },
              "axis": {
                "orient": "bottom",
                "tickCount": {"interval": "week", "step": 1},
                "labels": false,
                "domain": false,
                "ticks": true,
                "tickSize": 2,
                "tickColor": "#c0c0c0",
                "grid": true,
                "gridColor": "#a0a0a0",
                "gridOpacity": 0.5,
                "gridDash": [1, 2],
                "title": null
              }
            },
            "y": {
              "field": "v",
              "type": "quantitative",
              "scale": {"domain": [1.8, 3.0], "nice": false, "zero": false},
              "axis": {
                "orient": "left",
                "values": [1.8, 1.9, 2.0, 2.1, 2.2, 2.3, 2.4, 2.5, 2.6, 2.7, 2.8, 2.9, 3.0],
                "labelExpr": "format(datum.value, '.1f') + ' G'",
                "labelFont": "DejaVu Sans",
                "labelFontSize": 9.3,
                "labelColor": "#555555",
                "labelPadding": 5,
                "tickSize": 2,
                "tickColor": "#ff9090",
                "domainColor": "#c8c8f0",
                "grid": true,
                "gridColor": "#ff5050",
                "gridOpacity": 0.5,
                "gridDash": [1, 2],
                "title": "Hz",
                "titleFont": "DejaVu Sans",
                "titleFontSize": 10,
                "titleFontWeight": "normal",
                "titleColor": "#555555",
                "titleX": -57,
                "titleY": 87.5,
                "titleAngle": -90,
                "titleAlign": "center",
                "titleBaseline": "middle"
              }
            },
            "color": {
              "field": "c",
              "type": "nominal",
              "scale": {
                "domain": [0,1,2,3,4,5,6,7,8,9,10,11,12,13,14,15,16,17,18,19,20,21,22,23,24,25,26,27,28,29,30,31,32,33,34,35,36,37,38,39],
                "range": ["#00CC00","#0066B3","#FF8000","#FFCC00","#330099","#990099","#CCFF00","#FF0000","#808080","#008F00","#00487D","#B35A00","#B38F00","#6B006B","#8FB300","#B30000","#BEBEBE","#80FF80","#80C9FF","#FFC080","#FFE680","#AA80FF","#EE00CC","#FF8080","#666600","#FFBFFF","#00FFCC","#CC6699","#999900","#00CC00","#0066B3","#FF8000","#FFCC00","#330099","#990099","#CCFF00","#FF0000","#808080","#008F00","#00487D"]
              },
              "legend": {
                "orient": "none",
                "legendX": -53,
                "legendY": 206,
                "direction": "vertical",
                "columns": 1,
                "title": null,
                "padding": 0,
                "symbolType": "square",
                "symbolSize": 9,
                "symbolStrokeWidth": 3,
                "symbolLimit": 50,
                "clipHeight": 12,
                "rowPadding": 0,
                "labelExpr": "'CPU ' + datum.label",
                "labelFont": "DejaVu Sans Mono",
                "labelFontSize": 10,
                "labelColor": "#555555",
                "labelOffset": 7
              }
            }
          }
        },
        {
          "data": {"values": [{}]},
          "mark": {"type": "point", "shape": "triangle-up", "filled": true, "size": 28, "color": "#c8c8f0", "opacity": 1},
          "encoding": {
            "x": {
              "datum": {"year": 2025, "month": 8, "date": 1, "hours": 2},
              "type": "temporal",
              "axis": {
                "orient": "bottom",
                "tickCount": {"interval": "month", "step": 1},
                "labels": false,
                "domainColor": "#c8c8f0",
                "tickColor": "#ff7070",
                "tickSize": 3,
                "grid": true,
                "gridColor": "#ff5050",
                "gridOpacity": 0.5,
                "gridDash": [1, 2],
                "title": null
              }
            },
            "y": {"datum": 3.045, "type": "quantitative", "axis": null}
          }
        },
        {
          "data": {"values": [{}]},
          "mark": {"type": "point", "shape": "triangle-right", "filled": true, "size": 28, "color": "#c8c8f0", "opacity": 1},
          "encoding": {
            "x": {
              "datum": {"year": 2026, "month": 9, "date": 8, "hours": 12},
              "type": "temporal",
              "axis": {
                "orient": "bottom",
                "values": [
                  {"year": 2025, "month": 10, "date": 15},
                  {"year": 2026, "month": 1, "date": 15},
                  {"year": 2026, "month": 4, "date": 15},
                  {"year": 2026, "month": 7, "date": 15}
                ],
                "labelExpr": "['janvier','février','mars','avril','mai','juin','juillet','août','septembre','octobre','novembre','décembre'][month(datum.value)] + ' ' + year(datum.value)",
                "labelFont": "DejaVu Sans",
                "labelFontSize": 9.3,
                "labelColor": "#555555",
                "labelPadding": 5,
                "labelFlush": false,
                "domain": false,
                "ticks": false,
                "grid": false,
                "title": null
              }
            },
            "y": {"datum": 1.8, "type": "quantitative", "axis": null}
          }
        },
        {
          "data": {"values": [{"txt": "RRDTOOL / TOBI OETIKER"}]},
          "mark": {"type": "text", "angle": 90, "align": "left", "baseline": "middle", "font": "DejaVu Sans", "fontSize": 7.4, "color": "#c8c8c8"},
          "encoding": {
            "x": {"datum": {"year": 2026, "month": 9, "date": 25}, "type": "temporal", "axis": null},
            "y": {"datum": 3.158, "type": "quantitative", "axis": null},
            "text": {"field": "txt"}
          }
        }
      ],
      "resolve": {"axis": {"x": "independent", "y": "independent"}}
    },
    {
      "layer": [
        {
          "data": {"name": "stats"},
          "transform": [{"fold": ["Cur", "Min", "Avg", "Max"], "as": ["stat", "val"]}],
          "mark": {"type": "text", "align": "right", "baseline": "middle", "font": "DejaVu Sans Mono", "fontSize": 10, "color": "#555555"},
          "encoding": {
            "x": {
              "field": "stat",
              "type": "nominal",
              "scale": {"type": "point", "domain": ["Cur", "Min", "Avg", "Max"], "range": [105, 416], "padding": 0},
              "axis": null
            },
            "y": {
              "field": "cpu",
              "type": "nominal",
              "scale": {
                "type": "point",
                "domain": ["hdr","CPU 0","CPU 1","CPU 2","CPU 3","CPU 4","CPU 5","CPU 6","CPU 7","CPU 8","CPU 9","CPU 10","CPU 11","CPU 12","CPU 13","CPU 14","CPU 15","CPU 16","CPU 17","CPU 18","CPU 19","CPU 20","CPU 21","CPU 22","CPU 23","CPU 24","CPU 25","CPU 26","CPU 27","CPU 28","CPU 29","CPU 30","CPU 31","CPU 32","CPU 33","CPU 34","CPU 35","CPU 36","CPU 37","CPU 38","CPU 39","upd","ver"],
                "range": [200, 704],
                "padding": 0
              },
              "axis": null
            },
            "text": {"field": "val"}
          }
        },
        {
          "data": {"values": [
            {"stat": "Cur", "lab": "Cur:"},
            {"stat": "Min", "lab": "Min:"},
            {"stat": "Avg", "lab": "Avg:"},
            {"stat": "Max", "lab": "Max:"}
          ]},
          "mark": {"type": "text", "align": "right", "baseline": "middle", "dx": -12.7, "font": "DejaVu Sans Mono", "fontSize": 10, "color": "#555555"},
          "encoding": {
            "x": {"field": "stat", "type": "nominal", "axis": null},
            "y": {"datum": "hdr", "type": "nominal", "axis": null},
            "text": {"field": "lab"}
          }
        },
        {
          "data": {"values": [{"txt": "Last update: Sat Sep\u00a0 5 02:00:13 2026"}]},
          "mark": {"type": "text", "align": "right", "baseline": "middle", "font": "DejaVu Sans Mono", "fontSize": 10, "color": "#3c3c3c"},
          "encoding": {
            "x": {"datum": "Max", "type": "nominal", "axis": null},
            "y": {"datum": "upd", "type": "nominal", "axis": null},
            "text": {"field": "txt"}
          }
        },
        {
          "data": {"values": [{"txt": "Munin 2.0.76"}]},
          "mark": {"type": "text", "align": "center", "baseline": "middle", "dx": -27.3, "font": "DejaVu Sans", "fontSize": 6.9, "color": "#cccccc"},
          "encoding": {
            "x": {"datum": "Min", "type": "nominal", "axis": null},
            "y": {"datum": "ver", "type": "nominal", "axis": null},
            "text": {"field": "txt"}
          }
        }
      ]
    }
  ],
  "resolve": {"scale": {"x": "independent", "y": "independent"}},
  "config": {
    "view": {"fill": "white", "stroke": null},
    "font": "DejaVu Sans"
  }
}
